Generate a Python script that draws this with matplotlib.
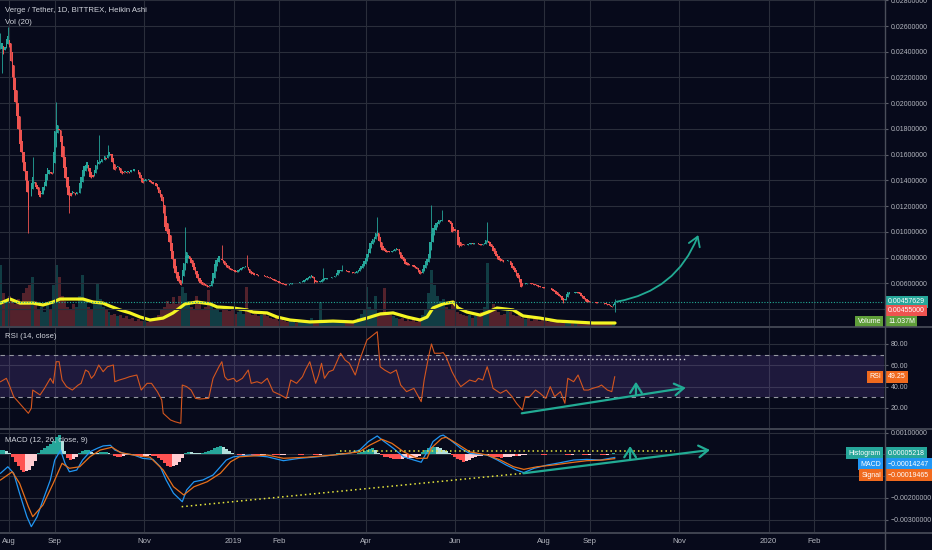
import numpy as np
import matplotlib
matplotlib.use('Agg')
import matplotlib.pyplot as plt
from matplotlib import transforms
from matplotlib.patches import FancyArrowPatch
from matplotlib.path import Path
from matplotlib.lines import Line2D

plt.rcParams['font.family'] = ['Liberation Sans', 'DejaVu Sans']

# ---------------- data (x = days since 2018-08-01) ----------------
first_day = -6
# Heikin Ashi closes, in 1e-5 USDT, one per day
ha_close_e5 = [
    2420, 2470, 2380, 2440, 2500, 2520,
    2440, 2330, 2200, 2100, 2010, 1900, 1800, 1680, 1620, 1540,
    1470, 1400, 1310, 1170, 1280, 1380, 1430, 1390, 1350, 1330,
    1290, 1270, 1300, 1350, 1390, 1450, 1500, 1480, 1460, 1450,
    1620, 1780, 1870, 1830, 1790, 1700, 1580, 1500, 1420, 1350,
    1290, 1250, 1280, 1320, 1300, 1290, 1310, 1300, 1380, 1430,
    1480, 1510, 1520, 1540, 1470, 1430, 1420, 1430, 1480, 1520,
    1560, 1540, 1550, 1570, 1560, 1590, 1570, 1600, 1620, 1600,
    1540, 1490, 1480, 1500, 1510, 1480, 1460, 1450, 1460, 1470,
    1460, 1470, 1460, 1480, 1470, 1490, 1480, 1480, 1450, 1420,
    1390, 1380, 1400, 1410, 1400, 1410, 1390, 1380, 1370, 1380,
    1360, 1330, 1300, 1270, 1240, 1150, 1040, 1010, 980, 920,
    850, 790, 720, 680, 640, 620, 600, 585, 700, 760,
    810, 840, 820, 790, 760, 730, 700, 670, 640, 620,
    605, 595, 590, 585, 580, 575, 570, 585, 620, 680,
    750, 780, 800, 810, 790, 780, 760, 740, 730, 720,
    710, 705, 700, 695, 690, 688, 700, 710, 720, 725,
    730, 735, 725, 700, 680, 675, 670, 665, 670, 665,
    660, 665, 668, 665, 655, 650, 648, 645, 640, 630,
    625, 620, 615, 610, 605, 600, 598, 595, 590, 587,
    590, 595, 600, 603, 600, 605, 602, 606, 610, 612,
    615, 625, 635, 640, 650, 660, 668, 640, 605, 608,
    610, 612, 615, 625, 635, 640, 641, 640, 642, 645,
    648, 650, 660, 680, 700, 705, 700, 702, 705, 700,
    695, 690, 688, 685, 682, 680, 685, 695, 705, 720,
    735, 750, 770, 800, 830, 870, 910, 930, 945, 960,
    990, 1010, 930, 880, 860, 855, 850, 845, 843, 842,
    845, 850, 855, 870, 875, 860, 830, 800, 790, 770,
    750, 745, 742, 740, 741, 735, 730, 720, 710, 690,
    670, 680, 715, 740, 770, 790, 830, 920, 980, 1030,
    1050, 1070, 1080, 1090, 1095, 1092, 1090, 1095, 1092, 1090,
    1075, 1060, 1000, 1005, 1010, 1015, 900, 885, 890, 898,
    895, 900, 898, 905, 910, 913, 908, 912, 915, 913,
    905, 900, 898, 905, 915, 935, 940, 910, 890, 880,
    850, 830, 810, 790, 780, 775, 770, 765, 770, 775,
    780, 770, 740, 720, 705, 690, 660, 640, 610, 575,
    580, 595, 600, 605, 600, 602, 598, 595, 590, 585,
    580, 575, 570, 568, 565, 563, 562, 565, 563, 560,
    550, 540, 532, 520, 510, 500, 490, 470, 450, 480,
    520, 532, 530, 525, 522, 525, 530, 532, 528, 515,
    500, 488, 475, 465, 458, 455, 456, 455, 455, 452,
    450, 448, 447, 448, 446, 445, 440, 436, 432, 428,
    422, 416, 440, 458,
]
# wick extremes (day: value in 1e-5)
wick_high_e5 = {-6: 2545, -1: 2592, 16: 1582, 32: 2009, 61: 1753, 67: 1675,
                120: 1038, 145: 898, 162: 820, 214: 719, 227: 742, 251: 1115,
                288: 1209, 295: 1170, 326: 1077, 413: 475}
wick_low_e5 = {-5: 2235, 13: 991, 41: 1146, 413: 380}

# volume (millions), one bar per 2 days starting at first_day
vol_m = [
    224, 120, 90, 110, 95, 80, 100, 85, 120, 140, 150, 180, 90, 60, 70, 50, 80, 60,
    150, 224, 180, 110, 90, 70, 60, 80, 70, 110, 187, 100, 70, 60, 90, 158, 100, 70,
    60, 50, 40, 45, 35, 40, 30, 35, 25, 30, 20, 25, 18, 20, 15, 18, 22, 30, 40, 60,
    70, 90, 80, 106, 80, 110, 143, 120, 90, 70, 60, 110, 80, 60, 70, 132, 80, 60,
    70, 50, 60, 70, 55, 60, 45, 50, 60, 45, 143, 50, 40, 45, 35, 40, 50, 35, 30, 25,
    30, 20, 22, 18, 15, 20, 14, 12, 16, 14, 18, 20, 30, 15, 12, 88, 20, 14, 12, 15,
    18, 14, 16, 12, 15, 14, 18, 22, 30, 45, 60, 143, 70, 60, 110, 40, 50, 139, 45, 40,
    35, 30, 25, 30, 20, 25, 18, 22, 15, 20, 40, 60, 120, 205, 150, 110, 90, 100, 70, 60,
    80, 90, 50, 45, 40, 35, 40, 30, 35, 40, 50, 70, 231, 60, 80, 70, 50, 40, 45, 60,
    50, 40, 35, 45, 30, 25, 30, 20, 25, 30, 20, 25, 18, 15, 20, 14, 16, 12, 20, 18,
    14, 12, 15, 10, 12, 10, 8, 11, 9, 12, 10, 8, 11, 9, 10, 11,
]
vol_ma_days = [-6, 0.5, 7.3, 16.2, 23, 29.8, 34.6, 43.5, 50.3, 57, 63.9, 68.7, 75.5, 82.3,
               89.2, 96, 104.9, 111.7, 119.9, 128, 137, 141.7, 152.6, 162.2, 166.3, 175.8,
               182.6, 191.5, 205.1, 220.8, 234.5, 244, 252.9, 261.8, 271.3, 280.2, 285, 289,
               295.9, 302.7, 306.1, 312.3, 321.2, 326.6, 332.7, 343.7, 350.5, 362, 373.7,
               384.6, 398.2, 413.2]
vol_ma_m = [84, 99, 84, 84, 77, 88, 99, 99, 99, 88, 84, 73, 59, 48, 33, 22, 29, 48, 81, 88,
            81, 70, 66, 59, 51, 48, 33, 22, 15, 18, 15, 29, 44, 48, 33, 22, 33, 66, 81, 88,
            66, 51, 40, 51, 66, 59, 37, 29, 18, 15, 11, 11]

rsi_days = [-6, -2, 0, 3, 7, 13, 15, 16, 21, 24, 28, 30, 32, 34, 36, 39, 43, 47, 49, 52, 54,
            56, 58, 61, 64, 67, 71, 72, 75, 79, 82, 87, 90, 94, 97, 101, 104, 105, 110, 113,
            117, 118, 121, 124, 127, 130, 136, 139, 143, 145, 147, 149, 153, 155, 159, 163,
            165, 169, 172, 176, 178, 180, 185, 189, 192, 196, 200, 202, 205, 209, 211, 213,
            215, 218, 221, 226, 229, 232, 236, 239, 244, 251, 253, 256, 260, 264, 267, 271,
            276, 281, 283, 286, 288, 290, 294, 296, 298, 302, 305, 308, 311, 314, 318, 320,
            323, 326, 328, 330, 335, 339, 343, 346, 350, 352, 355, 359, 362, 366, 369, 372,
            376, 379, 381, 385, 388, 392, 395, 398, 402, 404, 408, 411, 413]
rsi_vals = [44.6, 47.8, 41.5, 30.6, 24.4, 15, 19.7, 36.8, 32.2, 38.4, 47.8, 43.1, 63.4, 63.4,
            46.2, 40, 36.8, 41.5, 43.1, 55.6, 54, 47.8, 50.9, 60.3, 54, 58.7, 60.3, 44.6, 46.2,
            47.8, 49.3, 50.9, 36.8, 43.1, 43.1, 35.3, 27.5, 15, 8.7, 7.1, 5.6, 41.5, 40, 36.8,
            29, 28.4, 29, 47.8, 58.7, 63.4, 49.3, 46.2, 47.8, 44.6, 47.8, 55.6, 43.1, 44.6,
            43.1, 47.8, 41.5, 35.3, 32.2, 29, 46.2, 43.1, 49.3, 55.6, 63.4, 43.1, 50.9, 61.9,
            47.8, 54, 55.6, 71.3, 65, 61.9, 50.9, 65, 83.8, 91.5, 58.7, 55.6, 52.5, 55.6, 41.5,
            35.3, 38.4, 25.9, 46.2, 68, 80, 71.3, 71.3, 71.9, 68, 54, 46.2, 40, 43.1, 46.2,
            44.6, 47.8, 46.2, 58.7, 49.3, 38.4, 33.8, 36.8, 30.6, 24.4, 18.1, 30.6, 30.6, 36.8,
            33.8, 29, 40, 30.6, 35.3, 24.4, 47.8, 44.6, 50.9, 36.8, 36.8, 38.4, 40, 41.5, 36.8,
            35.3, 49.25]

# MACD / signal in 1e-5
macd_days = [-6, -1, 3, 7, 12, 15, 19, 23, 28, 31, 35, 38, 41, 46, 50, 55, 60, 64, 69, 72, 78,
             85, 91, 98, 103, 107, 112, 118, 121, 126, 132, 139, 144, 148, 153, 164, 176, 187,
             198, 210, 221, 232, 239, 245, 251, 255, 262, 269, 276, 281, 284, 287, 289, 294,
             296, 301, 308, 314, 326, 333, 339, 346, 351, 358, 367, 376, 385, 394, 403, 413]
macd_e5 = [-87, -57, -87, -179, -287, -333, -287, -210, -118, -26, 20, -41, -80, -72, -26, 12,
           28, 39, 42, 20, 5, -3, -18, -23, -57, -118, -179, -218, -164, -126, -118, -95, -57,
           -26, -11, -3, -11, -29, -18, -11, -3, 5, 20, 59, 85, 63, 28, -11, -26, -36, 0, 30,
           59, 85, 89, 66, 28, 5, -3, -26, -49, -72, -84, -64, -49, -38, -26, -23, -26, -14.2]
sig_days = [-6, 2, 7, 13, 16, 23, 30, 36, 41, 48, 55, 62, 70, 76, 85, 96, 105, 112, 119, 126,
            135, 144, 151, 157, 176, 187, 203, 221, 239, 246, 254, 261, 269, 278, 285, 288,
            292, 295, 298, 305, 314, 326, 335, 344, 351, 360, 371, 383, 394, 405, 413]
sig_e5 = [-118, -80, -133, -241, -287, -233, -133, -41, -64, -57, -11, 20, 33, 8, -3, -13, -72,
          -149, -187, -149, -126, -87, -34, -11, -3, -18, -13, -3, 12, 43, 70, 51, 12, -18,
          -18, 30, 55, 74, 79, 51, 12, -3, -26, -57, -69, -57, -49, -38, -29, -26, -19.5]
# histogram in 1e-5, one bar per 2 days starting at first_day
hist_e5 = [
    18, 20, 15, 8, -12, -35, -55, -70, -80, -78, -70, -55, -30, 8, 20, 30, 40, 50, 62, 80,
    88, 60, 15, -15, -25, -20, -10, 5, 15, 20, 20, 12, 8, 5, 10, 12, 12, 8, 4, -6,
    -10, -10, -8, -5, -4, -2, -5, -8, -10, -8, -6, -5, -6, -8, -15, -28, -40, -52, -57, -55,
    -48, -35, -15, 5, 10, 9, 8, 7, 5, 8, 12, 16, 22, 28, 34, 38, 32, 25, 15, 6,
    2, -2, -4, -3, 2, 3, -2, -4, -5, -3, -2, 2, 3, -2, -3, -4, -3, -2, 2, 4,
    3, 2, -2, -3, 2, 4, 3, -2, -4, -3, 2, 3, 2, 3, 4, 5, 6, 5, 4, 3,
    2, 3, 5, 10, 16, 22, 26, 28, 22, 8, -5, -10, -14, -18, -20, -22, -22, -20, -18, -20,
    -18, -15, -12, -6, 10, 20, 28, 34, 36, 32, 28, 22, 15, 6, -5, -12, -20, -28, -34, -30,
    -24, -18, -12, -8, -6, -5, -4, -6, -10, -12, -14, -15, -14, -12, -10, -8, -8, -6, -4, -2,
    2, 3, 4, 3, 2, -2, -3, 2, 3, 2, 3, 4, 2, -2, -3, -2, 2, 3, 2, -2,
    -3, -2, 2, 3, 2, -2, -3, -2, 2, 5,
]

month_days = [0, 31, 92, 153, 184, 243, 304, 365, 396, 457, 518, 549]
month_labels = ['Aug', 'Sep', 'Nov', '2019', 'Feb', 'Apr', 'Jun', 'Aug', 'Sep', 'Nov', '2020', 'Feb']

last_price = 0.00457629
low_price = 0.00455000
last_volume = '11.037M'
rsi_last = 49.25
hist_last, macd_last, sig_last = 0.00005218, -0.00014247, -0.00019465

# user drawings (day, value)
curve_pts = [(414.4, 0.00457), (455, 0.0054), (470, 0.00975)]
rsi_trend = [(349.6, 15), (461.5, 39)]
rsi_up = [(427.5, 32.2), (427.5, 44.6)]
rsi_dotted = [(232.4, 65.6), (461, 65.6)]
macd_trend = [(350.7, -0.000871), (478, 0.000203)]
macd_up = [(423.5, -0.000258), (423.5, 0.000387)]
macd_dot_h = [(225.6, 0.00017), (454.2, 0.00017)]
macd_dot_diag = [(117.6, -0.00241), (350.7, -0.000871)]

# ---------------- style ----------------
BG = '#070a1b'
GRID = '#2a2e3b'
TXT = '#b2b5be'
UP = '#26a69a'
DN = '#ef5350'
TEAL = '#22ab94'
W, H = 932, 550
AX_FS = 5.0
TAG_FS = 5.0

fig = plt.figure(figsize=(W / 100, H / 100), dpi=100, facecolor=BG)

def rect(top, bottom):
    return [0, 1 - bottom / H, 884 / W, (bottom - top) / H]

ax_v = fig.add_axes(rect(0, 326), facecolor=BG)
ax_p = fig.add_axes(rect(0, 326), facecolor='none', sharex=ax_v)
ax_r = fig.add_axes(rect(328, 428), facecolor=BG, sharex=ax_v)
ax_m = fig.add_axes(rect(429, 532), facecolor=BG, sharex=ax_v)

xmin, xmax = -6.34, 596.7
ax_v.set_xlim(xmin, xmax)

# ---- price candles (Heikin Ashi) ----
close = np.array(ha_close_e5, float) * 1e-5
days = first_day + np.arange(len(close))
opn = np.empty_like(close)
opn[0] = close[0]
for i in range(1, len(close)):
    opn[i] = (opn[i - 1] + close[i - 1]) / 2
hi = np.maximum(opn, close)
lo = np.minimum(opn, close)
for d, v in wick_high_e5.items():
    hi[d - first_day] = max(hi[d - first_day], v * 1e-5)
for d, v in wick_low_e5.items():
    lo[d - first_day] = min(lo[d - first_day], v * 1e-5)
cols = np.where(close >= opn, UP, DN)
ax_p.vlines(days, lo, hi, colors=cols, lw=0.6, zorder=3)
ax_p.bar(days, np.abs(close - opn), bottom=np.minimum(opn, close), width=0.9,
         color=cols, lw=0, zorder=4)
ax_p.set_ylim(0.002681, 0.028021)

# ---- volume ----
vol = np.array(vol_m, float)
vdays = first_day + 2 * np.arange(len(vol))
vidx = np.clip(vdays - first_day, 0, len(close) - 1)
vcols = [UP if close[i] >= opn[i] else DN for i in vidx]
ax_v.bar(vdays, vol, width=2.0, color=vcols, alpha=0.33, lw=0)
ax_v.plot(vol_ma_days, vol_ma_m, color='#f5f523', lw=2.3, solid_capstyle='round', zorder=5)
ax_v.set_ylim(0, 326 * 3.67)
ax_v.axis('off')

# ---- RSI ----
ax_r.axhspan(30, 70, color='#7e57c2', alpha=0.2, lw=0)
for lvl in (70, 30):
    ax_r.axhline(lvl, color='#9598a1', lw=0.8, ls=(0, (4, 4)))
ax_r.plot(rsi_days, rsi_vals, color='#d4561f', lw=0.8, zorder=4)
ax_r.set_ylim(1.2, 95.0)

# ---- MACD ----
hist = np.array(hist_e5, float) * 1e-5
hdays = first_day + 2 * np.arange(len(hist))
hcols = []
for k, h in enumerate(hist):
    prev = hist[k - 1] if k > 0 else h
    if h >= 0:
        hcols.append('#26a69a' if h >= prev else '#b2dfdb')
    else:
        hcols.append('#ffcdd2' if h > prev else '#ff5252')
ax_m.bar(hdays, hist, width=2.0, color=hcols, lw=0, zorder=2)
ax_m.plot(macd_days, np.array(macd_e5) * 1e-5, color='#2196f3', lw=0.9, zorder=4)
ax_m.plot(sig_days, np.array(sig_e5) * 1e-5, color='#e8701a', lw=0.9, zorder=4)
ax_m.set_ylim(-0.003576, 0.0011705)

# ---- grids & ticks ----
price_ticks = np.arange(0.004, 0.0281, 0.002)
ax_p.set_yticks(price_ticks)
ax_p.set_yticklabels(['' if abs(t - 0.004) < 1e-9 else f'{t:.8f}' for t in price_ticks])
ax_r.set_yticks([20, 40, 60, 80])
ax_r.set_yticklabels([f'{t:.2f}' for t in [20, 40, 60, 80]])
mt = [0.001, 0.0, -0.001, -0.002, -0.003]
ax_m.set_yticks(mt)
ax_m.set_yticklabels(['0.00100000', '', '', '\u22120.00200000', '\u22120.00300000'])
ax_m.set_xticks(month_days)
ax_m.set_xticklabels(month_labels)

for ax in (ax_p, ax_r, ax_m):
    ax.yaxis.tick_right()
    ax.tick_params(axis='y', length=3, color='#5d606b', labelcolor=TXT, labelsize=AX_FS, pad=2)
    ax.grid(True, color=GRID, lw=0.8)
    ax.set_axisbelow(True)
    for s in ax.spines.values():
        s.set_visible(False)
for ax in (ax_p, ax_r):
    ax.tick_params(axis='x', length=0, labelbottom=False)
ax_m.tick_params(axis='x', length=0, pad=4, labelsize=5.6, labelcolor=TXT)
ax_p.axhline(last_price, color=TEAL, lw=0.8, ls=(0, (1, 1.5)), zorder=2)

# ---- drawings ----
arrow_style = '->,head_length=0.55,head_width=0.35'
curve = Path(curve_pts, [Path.MOVETO, Path.CURVE3, Path.CURVE3])
ax_p.add_patch(FancyArrowPatch(path=curve, arrowstyle=arrow_style, mutation_scale=12,
                               color=TEAL, lw=1.3, zorder=6))
ax_r.plot(*zip(*rsi_dotted), color='#d0d0d8', lw=1.0, ls=(0, (1, 2)), zorder=3)
for a, ax in ((rsi_trend, ax_r), (rsi_up, ax_r), (macd_trend, ax_m), (macd_up, ax_m)):
    ax.add_patch(FancyArrowPatch(a[0], a[1], arrowstyle=arrow_style, mutation_scale=12,
                                 color=TEAL, lw=1.6, shrinkA=0, shrinkB=0, zorder=6))
ax_m.plot(*zip(*macd_dot_h), color='#e6e63c', lw=1.1, ls=(0, (1, 2)), zorder=5)
ax_m.plot(*zip(*macd_dot_diag), color='#e6e63c', lw=1.1, ls=(0, (1, 2)), zorder=5)

# ---- separators ----
for y in (327, 428.5, 532.5):
    fig.add_artist(Line2D([0, 1], [1 - y / H, 1 - y / H], transform=fig.transFigure,
                          color='#4a4e5a', lw=1.2))
fig.add_artist(Line2D([884.5 / W, 884.5 / W], [0, 1], transform=fig.transFigure,
                      color='#4a4e5a', lw=1.0))

# ---- titles ----
def title(x, y, s):
    fig.text(x / W, 1 - y / H, s, color='#d1d4dc', fontsize=5.6, va='center', ha='left')
title(5, 11, 'Verge / Tether, 1D, BITTREX, Heikin Ashi')
title(5, 23, 'Vol (20)')
title(5, 337, 'RSI (14, close)')
title(5, 440, 'MACD (12, 26, close, 9)')

# ---- value tags ----
def tag(ax, val, text, fc, x_px, dy_px=0.0, ha='left'):
    tr = transforms.blended_transform_factory(fig.transFigure, ax.transData)
    tr = transforms.offset_copy(tr, fig=fig, x=0, y=-dy_px, units='dots')
    ax.text(x_px / W, val, text, transform=tr, ha=ha, va='center', fontsize=TAG_FS,
            color='white', clip_on=False, zorder=20,
            bbox=dict(boxstyle='square,pad=0.35', fc=fc, ec='none'))

tag(ax_p, last_price, f'{last_price:.8f}', '#26a69a', 888)
tag(ax_p, low_price, f'{low_price:.8f}', '#ef5350', 888, dy_px=8.5)
tag(ax_p, low_price, last_volume, '#5f9e3a', 888, dy_px=19.5)
tag(ax_p, low_price, 'Volume', '#5f9e3a', 881, dy_px=19.5, ha='right')
tag(ax_r, rsi_last, f'{rsi_last:.2f}', '#f06a1e', 888)
tag(ax_r, rsi_last, 'RSI', '#f06a1e', 881, ha='right')
tag(ax_m, hist_last, f'{hist_last:.8f}', '#26a69a', 888)
tag(ax_m, hist_last, 'Histogram', '#26a69a', 881, ha='right')
tag(ax_m, hist_last, f'{macd_last:.8f}'.replace('-', '\u2212'), '#2196f3', 888, dy_px=11)
tag(ax_m, hist_last, 'MACD', '#2196f3', 881, dy_px=11, ha='right')
tag(ax_m, hist_last, f'{sig_last:.8f}'.replace('-', '\u2212'), '#f06a1e', 888, dy_px=22)
tag(ax_m, hist_last, 'Signal', '#f06a1e', 881, dy_px=22, ha='right')

fig.savefig('out.png', dpi=100, facecolor=BG)
